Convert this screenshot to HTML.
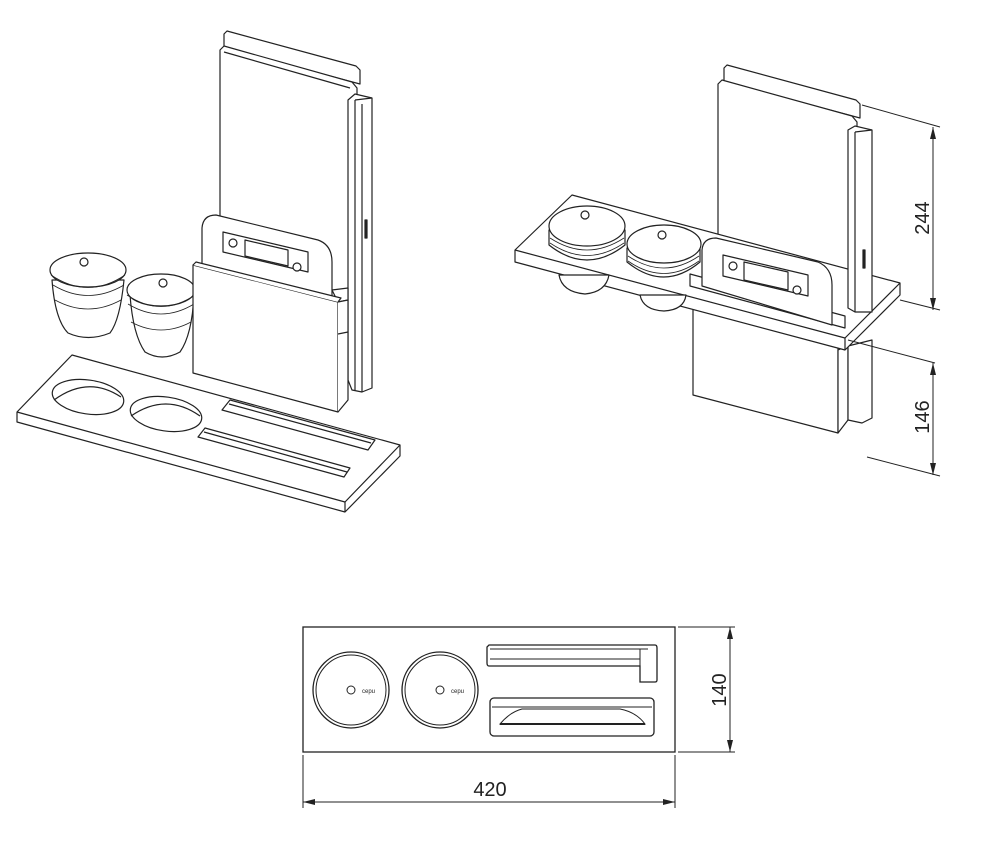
<!DOCTYPE html>
<html><head><meta charset="utf-8"><style>
html,body{margin:0;padding:0;background:#fff;}
svg{display:block;}
text{font-family:"Liberation Sans",sans-serif;fill:#222;}
</style></head><body>
<svg width="982" height="866" viewBox="0 0 982 866" xmlns="http://www.w3.org/2000/svg">
<g fill="#fff" stroke="#222" stroke-width="1.2" stroke-linejoin="round">
<!-- ===== LEFT VIEW ===== -->
<path d="M224 34 L227 31 L356 66 L360 70 L360 84 L224 48 Z"/>
<path d="M220 50 L224 46 L352 82 L357 88 L357 380 L220 380 Z"/>
<line x1="224" y1="52" x2="350" y2="88"/>
<!-- side panel -->
<path d="M348 100 L355 94 L372 98 L372 388 L362 392 L352 390 L348 380 Z"/>
<line x1="355" y1="100" x2="372" y2="98"/>
<line x1="355" y1="100" x2="355" y2="390"/>
<line x1="362" y1="104" x2="362" y2="392"/>
<rect x="365" y="220" width="2" height="18" fill="#222"/>
<!-- tray -->
<path d="M17 412 L72 355 L400 445 L400 456 L345 512 L17 422 Z"/>
<path d="M17 412 L345 502 L400 445" fill="none"/>
<line x1="345" y1="502" x2="345" y2="512"/>
<ellipse cx="88" cy="397" rx="36" ry="17" transform="rotate(8 88 397)"/>
<path d="M54 400 Q88 375 121 397" fill="none"/>
<ellipse cx="166" cy="414" rx="36" ry="17" transform="rotate(8 166 414)"/>
<path d="M131 416 Q166 392 200 416" fill="none"/>
<path d="M230 400 L375 440 L368 450 L222 410 Z"/>
<line x1="229" y1="404" x2="371" y2="443"/>
<path d="M205 428 L350 468 L344 477 L198 437 Z"/>
<line x1="204" y1="432" x2="347" y2="472"/>
<!-- cups -->
<path d="M52 280 Q55 320 68 333 Q88 342 110 333 Q120 320 124 280 Z"/>
<ellipse cx="88" cy="270" rx="38" ry="17"/>
<path d="M51 275 Q88 300 125 275 M53 285 Q88 306 124 285 M55 300 Q88 318 121 300" fill="none" stroke-width="0.8"/>
<circle cx="84" cy="262" r="4"/>
<path d="M130 295 Q133 335 145 352 Q162 362 180 352 Q192 335 194 295 Z"/>
<ellipse cx="161" cy="290" rx="34" ry="16"/>
<path d="M127 295 Q161 318 195 295 M128 304 Q161 324 194 304 M131 322 Q161 338 191 322" fill="none" stroke-width="0.8"/>
<circle cx="163" cy="283" r="4"/>
<!-- tablet -->
<path d="M202 280 L202 228 Q203 215 216 215 L318 240 Q332 245 332 262 L332 305 Z"/>
<path d="M223 232 L308 252 L308 272 L223 252 Z"/>
<path d="M245 240 L288 250 L288 266 L245 256 Z" fill="none"/>
<circle cx="233" cy="243" r="4"/><circle cx="297" cy="267" r="4"/>
<path d="M332 290 L348 288 L348 300 L338 302 Z"/>
<!-- sleeve -->
<path d="M193 265 L338 302 L338 412 L193 373 Z"/>
<path d="M193 265 L196 262 L341 298 L338 302" />
<path d="M338 302 L348 300 L348 400 L338 412" />
<line x1="338" y1="334" x2="348" y2="332"/>
<!-- ===== RIGHT VIEW ===== -->
<path d="M724 68 L727 65 L856 100 L860 104 L860 118 L724 82 Z"/>
<path d="M718 84 L722 80 L852 116 L857 122 L857 300 L718 262 Z"/>
<!-- box below -->
<path d="M693 300 L838 345 L838 433 L693 395 Z"/>
<path d="M838 350 L848 346 L848 420 L838 433 Z"/>
<path d="M848 346 L872 340 L872 418 L862 423 L848 420 Z"/>
<!-- shelf -->
<path d="M515 250 L572 195 L900 283 L900 295 L845 350 L515 262 Z"/>
<path d="M515 250 L845 338 L900 283" fill="none"/>
<line x1="845" y1="338" x2="845" y2="350"/>
<!-- side panel above shelf -->
<path d="M848 130 L855 126 L872 130 L872 312 L855 312 L848 308 Z"/>
<line x1="855" y1="132" x2="872" y2="130"/>
<line x1="855" y1="132" x2="855" y2="312"/>
<rect x="863" y="250" width="2" height="18" fill="#222"/>
<!-- cups on shelf -->
<path d="M559 275 Q562 292 585 294 Q606 292 609 275 Z"/>
<path d="M640 295 Q643 310 664 311 Q684 310 686 295 Z"/>
<path d="M549 230 L549 245 Q587 275 625 245 L625 230 Z"/>
<path d="M550 238 Q587 262 624 238 M550 243 Q587 268 624 243" fill="none" stroke-width="0.8"/>
<ellipse cx="587" cy="226" rx="38" ry="20"/>
<circle cx="585" cy="215" r="4"/>
<path d="M627 248 L627 262 Q664 292 700 262 L700 248 Z"/>
<path d="M628 256 Q664 280 699 256 M628 261 Q664 286 699 261" fill="none" stroke-width="0.8"/>
<ellipse cx="664" cy="244" rx="37" ry="19"/>
<circle cx="662" cy="235" r="4"/>
<!-- tablet in slot -->
<path d="M690 286 L845 328 L845 316 L690 274 Z" fill="none"/>
<path d="M702 286 L702 250 Q703 238 716 238 L818 262 Q832 268 832 285 L832 325 Z"/>
<path d="M723 255 L808 275 L808 296 L723 276 Z"/>
<circle cx="733" cy="266" r="4"/><circle cx="797" cy="290" r="4"/>
<path d="M744 262 L788 272 L788 290 L744 280 Z" fill="none"/>
</g>
<!-- dimensions right -->
<g stroke="#222" stroke-width="1" fill="none">
<line x1="862" y1="105" x2="940" y2="127"/>
<line x1="900" y1="300" x2="940" y2="310"/>
<line x1="848" y1="340" x2="935" y2="363"/>
<line x1="867" y1="457" x2="940" y2="476"/>
<line x1="933" y1="127" x2="933" y2="310"/>
<line x1="933" y1="363" x2="933" y2="475"/>
<!-- bottom view -->
<rect x="303" y="627" width="372" height="125" stroke-width="1.3"/>
<circle cx="351" cy="690" r="38" stroke-width="1.3"/><circle cx="351" cy="690" r="35"/>
<circle cx="351" cy="690" r="4"/>
<circle cx="440" cy="690" r="38" stroke-width="1.3"/><circle cx="440" cy="690" r="35"/>
<circle cx="440" cy="690" r="4"/>
<path d="M489 645 L655 645 Q657 645 657 648 L657 680 Q657 682 655 682 L640 682 L640 666 L489 666 Q487 666 487 663 L487 647 Z" stroke-width="1.3"/>
<line x1="490" y1="649" x2="648" y2="649"/><line x1="490" y1="659" x2="640" y2="659"/>
<line x1="640" y1="649" x2="640" y2="666"/>
<rect x="490" y="698" width="164" height="38" rx="4" stroke-width="1.3"/>
<line x1="492" y1="707" x2="652" y2="707"/>
<path d="M500 724 Q510 712 522 709 L620 709 Q636 712 645 724 Z"/>
<line x1="500" y1="724" x2="645" y2="724" stroke-width="2"/>
<line x1="303" y1="755" x2="303" y2="808"/>
<line x1="675" y1="755" x2="675" y2="808"/>
<line x1="303" y1="802" x2="675" y2="802"/>
<line x1="678" y1="627" x2="735" y2="627"/>
<line x1="678" y1="752" x2="735" y2="752"/>
<line x1="730" y1="627" x2="730" y2="752"/>
</g>
<g fill="#222">
<polygon points="933,127 930,139 936,139"/><polygon points="933,310 930,298 936,298"/>
<polygon points="933,363 930,375 936,375"/><polygon points="933,475 930,463 936,463"/>
<polygon points="303,802 315,799 315,805"/><polygon points="675,802 663,799 663,805"/>
<polygon points="730,627 727,639 733,639"/><polygon points="730,752 727,740 733,740"/>
</g>
<text x="0" y="0" font-size="20" text-anchor="middle" transform="translate(929,218) rotate(-90)">244</text>
<text x="0" y="0" font-size="20" text-anchor="middle" transform="translate(929,417) rotate(-90)">146</text>
<text x="0" y="0" font-size="20" text-anchor="middle" transform="translate(726,690) rotate(-90)">140</text>
<text x="490" y="796" font-size="20" text-anchor="middle">420</text>
<text x="362" y="693" font-size="6">cepu</text>
<text x="451" y="693" font-size="6">cepu</text>
</svg>
</body></html>
